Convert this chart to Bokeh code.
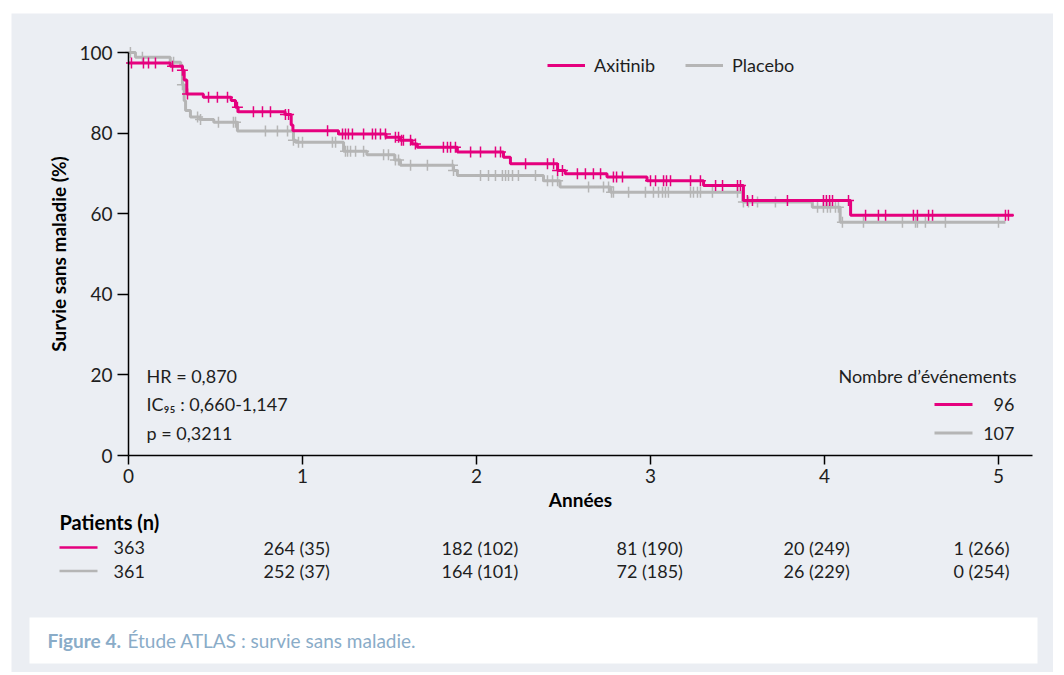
import numpy as np
from bokeh.plotting import figure
from bokeh.models import (Range1d, FixedTicker, Label, Legend, LegendItem,
                          Arrow, BoxAnnotation)
from bokeh.embed import file_html
from bokeh.resources import INLINE

# ---------------- data ----------------
series_names = ["Axitinib", "Placebo"]

axitinib_t = [0, 0.24, 0.31, 0.32, 0.335, 0.43, 0.59, 0.615, 0.63, 0.90, 0.935,
              0.945, 1.207, 1.48, 1.56, 1.63, 1.66, 1.89, 2.155, 2.195, 2.466,
              2.51, 2.75, 2.98, 3.305, 3.534, 4.15, 5.086]
axitinib_s = [97.4, 96.6, 95.6, 93.2, 89.7, 88.9, 88.1, 86.4, 85.3, 84.6, 82.0,
              80.6, 79.8, 79.0, 78.2, 77.3, 76.5, 75.3, 74.0, 72.4, 70.7,
              69.9, 69.1, 68.2, 67.0, 63.3, 59.6, 59.6]

placebo_t = [0, 0.04, 0.24, 0.30, 0.31, 0.32, 0.328, 0.356, 0.41, 0.49, 0.626,
             0.948, 0.96, 1.236, 1.37, 1.53, 1.563, 1.868, 1.89, 2.385, 2.48,
             2.77, 3.53, 3.93, 4.09, 5.04]
placebo_s = [100, 98.8, 97.6, 96.8, 92.0, 88.0, 85.6, 84.0, 83.4, 82.7, 80.5,
             78.2, 77.7, 75.5, 74.6, 73.3, 72.0, 70.7, 69.5, 68.2, 66.6,
             65.3, 62.9, 61.6, 57.9, 57.9]

axitinib_censored = [0.017, 0.086, 0.115, 0.155, 0.253, 0.310, 0.339, 0.460, 0.511,
                     0.569, 0.626, 0.718, 0.770, 0.816, 0.902, 0.920, 1.144, 1.230,
                     1.247, 1.264, 1.287, 1.351, 1.402, 1.420, 1.448, 1.477, 1.534,
                     1.552, 1.569, 1.580, 1.621, 1.649, 1.810, 1.833, 1.851, 1.879,
                     1.966, 2.023, 2.109, 2.138, 2.282, 2.408, 2.443, 2.466, 2.494,
                     2.580, 2.626, 2.672, 2.713, 2.787, 2.805, 2.839, 3.000, 3.029,
                     3.075, 3.092, 3.115, 3.230, 3.287, 3.374, 3.414, 3.500, 3.517,
                     3.557, 3.586, 3.787, 3.994, 4.011, 4.029, 4.046, 4.138, 4.236,
                     4.310, 4.351, 4.511, 4.534, 4.598, 4.621, 5.040, 5.057]
placebo_censored = [0.011, 0.080, 0.259, 0.310, 0.397, 0.414, 0.517, 0.603, 0.615,
                    0.787, 0.856, 0.914, 0.948, 0.977, 1.000, 1.172, 1.190, 1.247,
                    1.259, 1.276, 1.305, 1.351, 1.466, 1.494, 1.534, 1.552, 1.621,
                    1.718, 1.862, 1.868, 2.023, 2.069, 2.109, 2.149, 2.167, 2.184,
                    2.207, 2.241, 2.339, 2.408, 2.437, 2.466, 2.644, 2.730, 2.759,
                    2.776, 2.787, 2.874, 2.971, 3.017, 3.046, 3.069, 3.086, 3.103,
                    3.230, 3.247, 3.270, 3.287, 3.356, 3.500, 3.534, 3.563, 3.615,
                    3.718, 3.960, 3.994, 4.017, 4.034, 4.063, 4.080, 4.103, 4.224,
                    4.448, 4.523, 4.534, 4.580, 4.695, 5.000]

years = [0, 1, 2, 3, 4, 5]
axitinib_at_risk = [363, 264, 182, 81, 20, 1]
axitinib_cum_events = [None, 35, 102, 190, 249, 266]
placebo_at_risk = [361, 252, 164, 72, 26, 0]
placebo_cum_events = [None, 37, 101, 185, 229, 254]
total_events = [96, 107]

y_ticks = [0, 20, 40, 60, 80, 100]
stats_lines = ["HR = 0,870", "IC\u2089\u2085 : 0,660-1,147", "p = 0,3211"]
events_title = "Nombre d\u2019\u00e9v\u00e9nements"
table_title = "Patients (n)"
x_title = "Ann\u00e9es"
y_title = "Survie sans maladie (%)"
caption_bold = "Figure 4."
caption_text = "\u00c9tude ATLAS : survie sans maladie."

# ---------------- styles / layout ----------------
PINK = "#e5007e"
GREY = "#b5b5b5"
PANEL = "#ebeef3"
INK = "#1e1e1e"
CAP = "#8aacc8"
FONT = "Lato"
FS = "18px"

# window-pixel geometry of the panel (figure placed at window x=11, y=13)
FIG_L, FIG_T, FIG_W, FIG_H = 11, 13, 1042, 659
X0_PX, PXX = 128, 174          # x=0 at window px 128, 174 px per year
Y0_PX, PXY = 455, 4.03         # y=0 at window px 455, 4.03 px per %


def wx(px):  # window pixel -> data x
    return (px - X0_PX) / PXX


def wy(py):  # window pixel -> data y
    return (Y0_PX - py) / PXY


def km_at(ts, ss, c):
    idx = np.searchsorted(np.asarray(ts), np.asarray(c), side="right") - 1
    return np.asarray(ss)[idx]


p = figure(width=FIG_W, height=FIG_H, margin=(FIG_T, 0, 0, FIG_L),
           x_range=Range1d(wx(FIG_L), wx(FIG_L + FIG_W)),
           y_range=Range1d(wy(FIG_T + FIG_H), wy(FIG_T)),
           output_backend="svg", toolbar_location=None,
           min_border=0)
p.background_fill_color = PANEL
p.border_fill_color = PANEL
p.outline_line_color = None
p.grid.visible = False

for ax in (p.xaxis[0], p.yaxis[0]):
    ax.fixed_location = 0
    ax.axis_line_width = 1.5
    ax.axis_line_color = "black"
    ax.major_tick_line_width = 1.5
    ax.major_tick_line_color = "black"
    ax.major_tick_in = 0
    ax.minor_tick_line_color = None
    ax.major_label_text_font = FONT
    ax.major_label_text_font_size = "19px"
    ax.major_label_text_color = INK
    ax.axis_label_text_font = FONT
    ax.axis_label_text_font_size = "19px"
    ax.axis_label_text_font_style = "bold"
    ax.axis_label_text_color = "black"

p.yaxis.ticker = FixedTicker(ticks=y_ticks)
p.yaxis.bounds = (0, 100)
p.yaxis.major_tick_out = 11
p.yaxis.major_label_standoff = 5
p.yaxis.axis_label = y_title
p.yaxis.axis_label_standoff = 6

p.xaxis.ticker = FixedTicker(ticks=years)
p.xaxis.bounds = (0, wx(1032))
p.xaxis.major_tick_out = 9
p.xaxis.major_label_standoff = 4
p.xaxis.axis_label = x_title
p.xaxis.axis_label_standoff = 2

# curves
r_pla = p.step(placebo_t, placebo_s, mode="after", line_color=GREY, line_width=3)
p.scatter(placebo_censored, km_at(placebo_t, placebo_s, placebo_censored),
          marker="cross", size=11, line_color=GREY, line_width=1.5)
r_axi = p.step(axitinib_t, axitinib_s, mode="after", line_color=PINK, line_width=3)
p.scatter(axitinib_censored, km_at(axitinib_t, axitinib_s, axitinib_censored),
          marker="cross", size=11, line_color=PINK, line_width=1.5)

legend = Legend(items=[LegendItem(label=series_names[0], renderers=[r_axi]),
                       LegendItem(label=series_names[1], renderers=[r_pla])],
                orientation="horizontal",
                location=(547 - FIG_L, FIG_T + FIG_H - 76),
                glyph_width=38, glyph_height=20, label_standoff=9, spacing=30,
                padding=0, margin=0, border_line_color=None,
                background_fill_alpha=0, label_text_font=FONT,
                label_text_font_size=FS, label_text_color=INK)
p.add_layout(legend)

# statistics text
for i, line in enumerate(stats_lines):
    p.add_layout(Label(x=wx(146), y=wy(375 + 28.5 * i), text=line,
                       text_font=FONT, text_font_size=FS, text_color=INK,
                       text_baseline="middle", text_align="left"))

# events legend
p.add_layout(Label(x=wx(1016), y=wy(375), text=events_title, text_font=FONT,
                   text_font_size=FS, text_color=INK,
                   text_baseline="middle", text_align="right"))
for i, (col, n) in enumerate(zip([PINK, GREY], total_events)):
    yy = wy(404 + 28.5 * i)
    p.add_layout(Arrow(x_start=wx(934), y_start=yy, x_end=wx(972), y_end=yy,
                       start=None, end=None, line_color=col, line_width=3))
    p.add_layout(Label(x=wx(1014), y=yy, text=str(n), text_font=FONT,
                       text_font_size=FS, text_color=INK,
                       text_baseline="middle", text_align="right"))

# number-at-risk table
p.add_layout(Label(x=wx(59), y=wy(521), text=table_title, text_font=FONT,
                   text_font_size="20px", text_font_style="bold",
                   text_color="black", text_baseline="middle", text_align="left"))
col_left = [113, 263, 441, 616, 783, 953]
for r, (col, n_list, ev_list) in enumerate(
        [(PINK, axitinib_at_risk, axitinib_cum_events),
         (GREY, placebo_at_risk, placebo_cum_events)]):
    yy = wy(547 + 23.5 * r)
    p.add_layout(Arrow(x_start=wx(59), y_start=yy, x_end=wx(97), y_end=yy,
                       start=None, end=None, line_color=col, line_width=2.5))
    for cx, n, ev in zip(col_left, n_list, ev_list):
        txt = f"{n}" if ev is None else f"{n} ({ev})"
        p.add_layout(Label(x=wx(cx), y=yy, text=txt, text_font=FONT,
                           text_font_size=FS, text_color=INK,
                           text_baseline="middle", text_align="left"))

# caption box
p.add_layout(BoxAnnotation(left=wx(29), right=wx(1037), top=wy(617), bottom=wy(663),
                           fill_color="white", fill_alpha=1, line_color=None))
p.add_layout(Label(x=wx(47), y=wy(640), text=caption_bold, text_font=FONT,
                   text_font_size="19px", text_font_style="bold", text_color=CAP,
                   text_baseline="middle", text_align="left"))
p.add_layout(Label(x=wx(127), y=wy(640), text=caption_text, text_font=FONT,
                   text_font_size="19px", text_color=CAP,
                   text_baseline="middle", text_align="left"))

open("out.html", "w").write(file_html(p, INLINE))
